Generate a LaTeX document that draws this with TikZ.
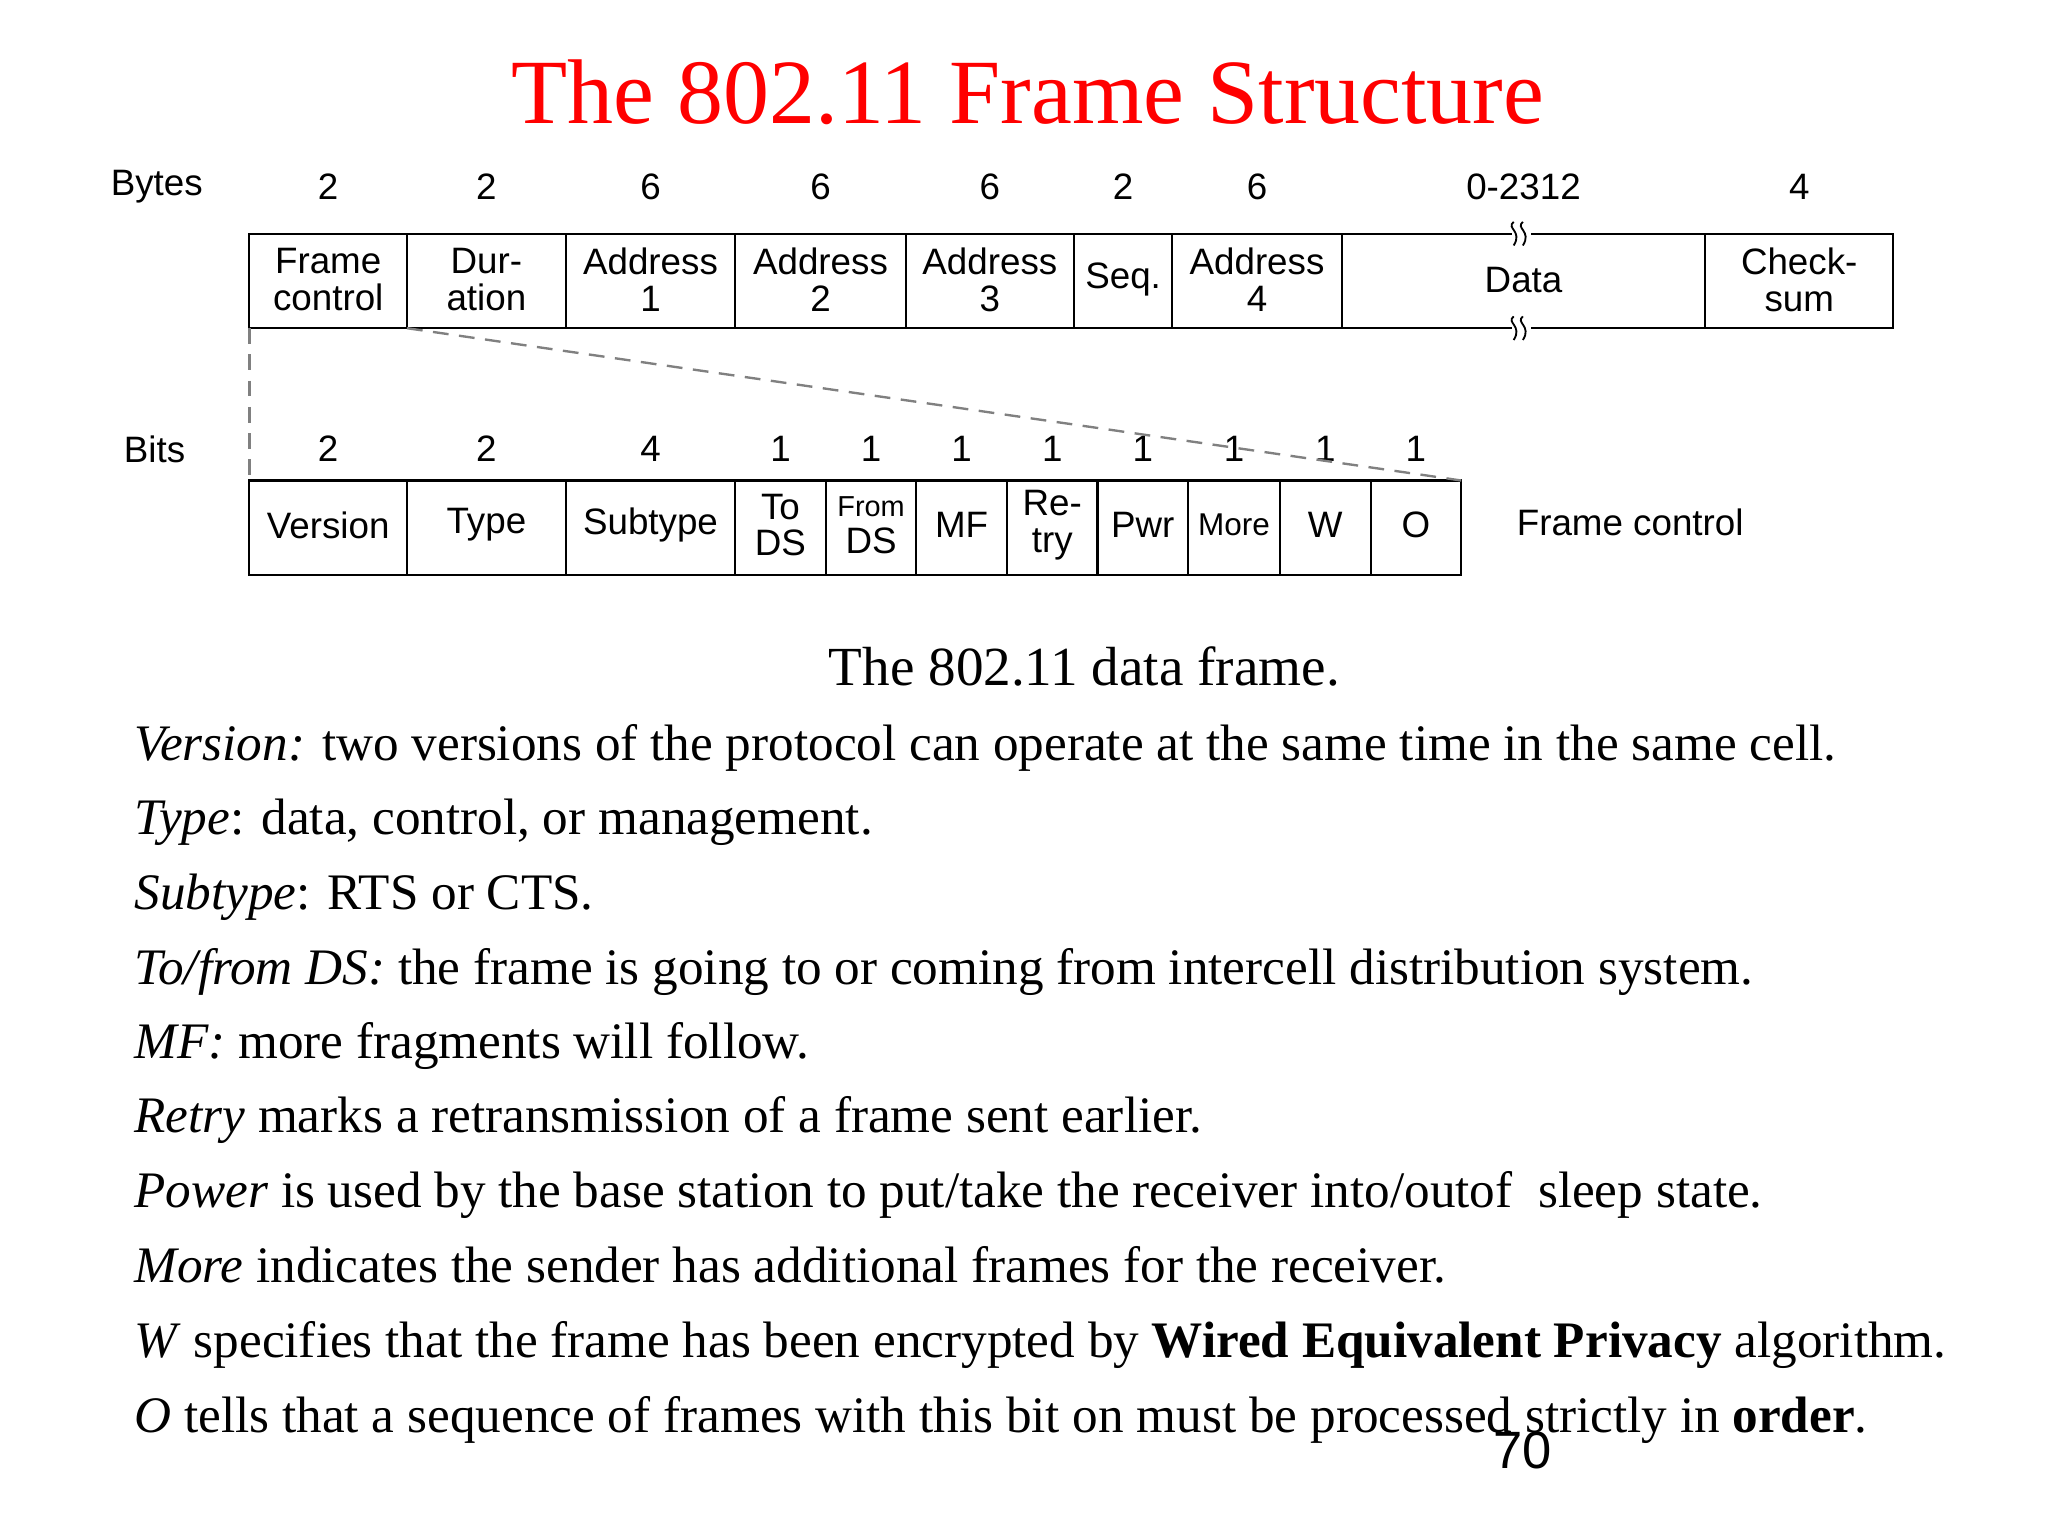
\documentclass[tikz,border=0pt]{standalone}
\usepackage{fontspec}
\setmainfont{Liberation Serif}
\newfontfamily\diag{Liberation Sans}
\begin{document}
\begin{tikzpicture}[x=0.5pt,y=-0.5pt,
  lab/.style={font=\diag\fontsize{14}{14}\selectfont,align=center,inner sep=0pt},
  cell/.style={draw,line width=0.8pt},
  body/.style={font=\fontsize{19.5}{20}\selectfont,anchor=base west,inner sep=0pt},
  zoomline/.style={gray,line width=0.9pt,dash pattern=on 6pt off 4pt}]
\useasboundingbox (0,0) rectangle (1560,1170);
\node[red,font=\fontsize{35}{35}\selectfont] (title) at (783,70) {The 802.11 Frame Structure};
% top row
\node[lab,anchor=west] (bytes) at (84,142) {Bytes};
\foreach \a/\b/\n/\t [count=\i] in {190/310/2/Frame\\control,310/431/2/Dur-\\ation,431/560/6/Address\\1,560/690/6/Address\\2,690/818/6/Address\\3,818/893/2/Seq.,893/1022/6/Address\\4,1022/1299/0-2312/Data,1299/1442/4/Check-\\sum}{
  \draw[cell] (\a,178) rectangle (\b,250);
  \node[lab] (t\i) at ({(\a+\b)/2},213) {\t};
  \node[lab] (n\i) at ({(\a+\b)/2},142) {\n};
}
\foreach \yy in {178,250}{
  \fill[white] (1152,\yy-9) rectangle (1166,\yy+9);
  \draw[line width=0.7pt] (1153,\yy-9) .. controls (1147,\yy-4) and (1160,\yy-2) .. (1153,\yy+9);
  \draw[line width=0.7pt] (1160,\yy-9) .. controls (1154,\yy-4) and (1167,\yy-2) .. (1160,\yy+9);
}
% bottom row
\node[lab,anchor=west] (bits) at (94,342) {Bits};
\foreach \a/\b/\n/\t [count=\i] in {190/310/2/Version,310/431/2/Type,431/560/4/Subtype,560/629/1/To\\DS,629/698/1/{\fontsize{11}{12}\selectfont From}\\DS,698/767/1/MF,767/836/1/Re-\\try,836/905/1/Pwr,905/975/1/{\fontsize{12}{12}\selectfont More},975/1044/1/W,1044/1113/1/O}{
  \draw[cell] (\a,366) rectangle (\b,438);
  \node[lab] (b\i) at ({(\a+\b)/2},400) {\t};
  \node[lab] (m\i) at ({(\a+\b)/2},342) {\n};
}
\coordinate (fcl) at (190,250);
\coordinate (fcr) at (310,250);
\coordinate (bl) at (190,366);
\coordinate (br) at (1113,366);
\draw[zoomline] (fcl) -- (bl);
\draw[zoomline] (fcr) -- (br);
\node[lab,anchor=west] (fc) at (1155,398) {Frame control};
\node[font=\fontsize{21}{21}\selectfont] (cap) at (826,508) {The 802.11 data frame.};
\node[body] (l1) at (102,579) {\textit{Version:} two versions of the protocol can operate at the same time in the same cell.};
\node[body] (l2) at (102,636) {\textit{Type}: data, control, or management.};
\node[body] (l3) at (102,693) {\textit{Subtype}: RTS or CTS.};
\node[body] (l4) at (102,750) {\textit{To/from DS:} the frame is going to or coming from intercell distribution system.};
\node[body] (l5) at (102,806) {\textit{MF:} more fragments will follow.};
\node[body] (l6) at (102,863) {\textit{Retry} marks a retransmission of a frame sent earlier.};
\node[body] (l7) at (102,920) {\textit{Power} is used by the base station to put/take the receiver into/outof\ \ sleep state.};
\node[body] (l8) at (102,977) {\textit{More} indicates the sender has additional frames for the receiver.};
\node[body] (l9) at (102,1034) {\textit{W} specifies that the frame has been encrypted by \textbf{Wired Equivalent Privacy} algorithm.};
\node[body] (l10) at (102,1091) {\textit{O} tells that a sequence of frames with this bit on must be processed strictly in \textbf{order}.};
\node[font=\diag\fontsize{20}{20}\selectfont] (pg) at (1160,1105) {70};
\end{tikzpicture}
\end{document}
